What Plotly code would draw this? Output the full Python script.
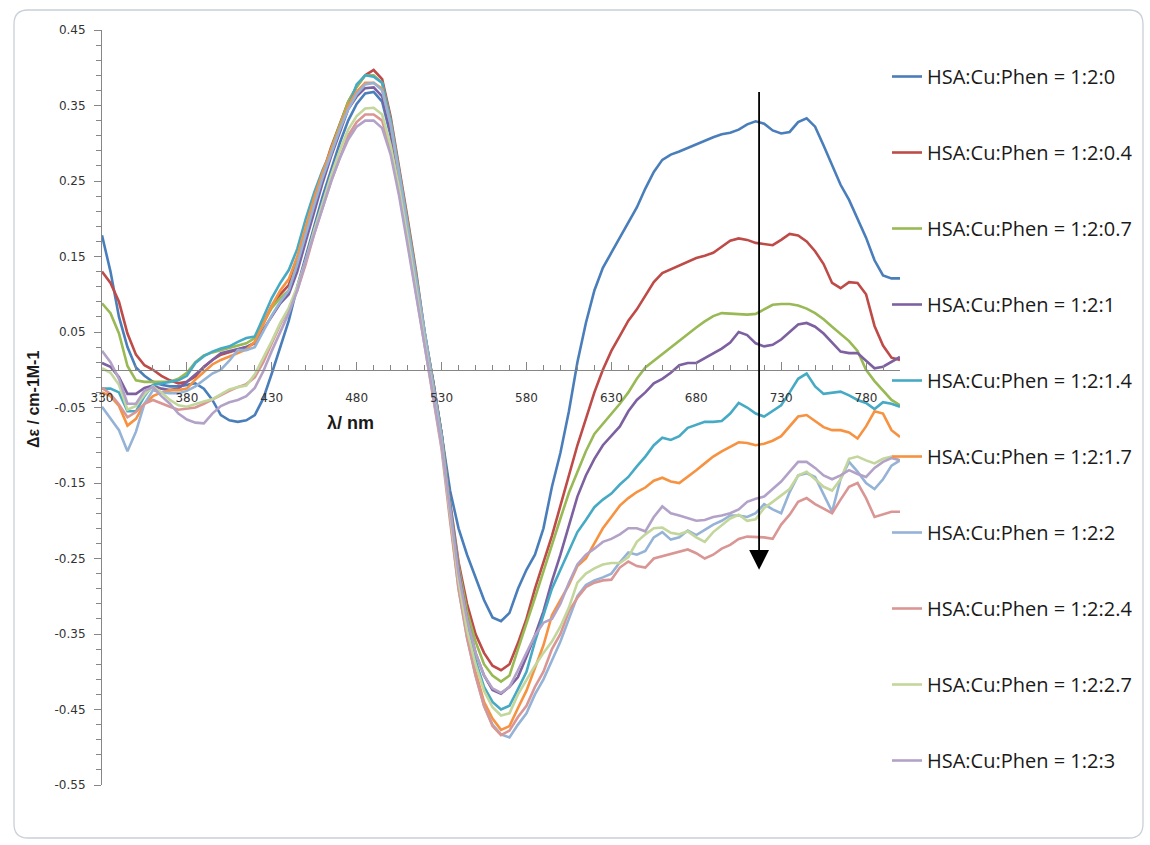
import plotly.graph_objects as go

# ---------------- data ----------------
wavelength = list(range(330, 801, 5))  # nm

ratio_labels = ["HSA:Cu:Phen = 1:2:0", "HSA:Cu:Phen = 1:2:0.4", "HSA:Cu:Phen = 1:2:0.7",
                "HSA:Cu:Phen = 1:2:1", "HSA:Cu:Phen = 1:2:1.4", "HSA:Cu:Phen = 1:2:1.7",
                "HSA:Cu:Phen = 1:2:2", "HSA:Cu:Phen = 1:2:2.4", "HSA:Cu:Phen = 1:2:2.7",
                "HSA:Cu:Phen = 1:2:3"]

phen_0 = [
    0.178, 0.13, 0.07, 0.03, 0.003, -0.008, -0.016, -0.02, -0.022, -0.022,
    -0.02, -0.018, -0.025, -0.04, -0.06, -0.067, -0.069, -0.067, -0.06, -0.038,
    -0.005, 0.03, 0.065, 0.11, 0.15, 0.19, 0.23, 0.265, 0.30, 0.33,
    0.352, 0.366, 0.368, 0.355, 0.31, 0.25, 0.18, 0.115, 0.04, -0.02,
    -0.085, -0.16, -0.21, -0.245, -0.275, -0.305, -0.328, -0.333, -0.322, -0.29,
    -0.265, -0.245, -0.21, -0.155, -0.11, -0.055, 0.01, 0.062, 0.105, 0.135,
    0.155, 0.175, 0.195, 0.215, 0.24, 0.262, 0.278, 0.285, 0.289, 0.294,
    0.298, 0.303, 0.308, 0.312, 0.314, 0.318, 0.325, 0.329, 0.326, 0.317,
    0.313, 0.315, 0.328, 0.333, 0.322, 0.297, 0.27, 0.245, 0.225, 0.20,
    0.175, 0.145, 0.125, 0.121, 0.121]

phen_04 = [
    0.130, 0.115, 0.09, 0.048, 0.02, 0.006, 0.0, -0.008, -0.014, -0.018,
    -0.016, -0.009, 0.004, 0.013, 0.02, 0.023, 0.026, 0.03, 0.035, 0.062,
    0.085, 0.1, 0.112, 0.145, 0.185, 0.225, 0.26, 0.295, 0.325, 0.355,
    0.375, 0.39, 0.397, 0.385, 0.335, 0.27, 0.2, 0.13, 0.05, -0.015,
    -0.085, -0.175, -0.255, -0.31, -0.35, -0.375, -0.392, -0.398, -0.39, -0.362,
    -0.33, -0.29, -0.255, -0.22, -0.18, -0.14, -0.1, -0.065, -0.03, 0.0,
    0.025, 0.045, 0.065, 0.08, 0.098, 0.116, 0.128, 0.133, 0.137, 0.143,
    0.148, 0.151, 0.155, 0.163, 0.171, 0.174, 0.172, 0.168, 0.166, 0.165,
    0.172, 0.18, 0.178, 0.17, 0.157, 0.14, 0.115, 0.108, 0.116, 0.115,
    0.1, 0.058, 0.032, 0.016, 0.013]

phen_07 = [
    0.088, 0.075, 0.048, 0.005, -0.014, -0.016, -0.016, -0.016, -0.016, -0.012,
    -0.004, 0.01, 0.019, 0.023, 0.026, 0.029, 0.032, 0.035, 0.042, 0.062,
    0.082, 0.095, 0.105, 0.14, 0.18, 0.22, 0.258, 0.293, 0.325, 0.355,
    0.375, 0.39, 0.39, 0.38, 0.33, 0.265, 0.195, 0.125, 0.048, -0.015,
    -0.085, -0.18, -0.26, -0.32, -0.36, -0.39, -0.405, -0.413, -0.405, -0.37,
    -0.337, -0.302, -0.267, -0.231, -0.197, -0.163, -0.135, -0.108, -0.085, -0.072,
    -0.058, -0.045, -0.03, -0.012, 0.003, 0.012, 0.02, 0.03, 0.039, 0.048,
    0.056, 0.064, 0.071, 0.075, 0.074, 0.073, 0.073, 0.074, 0.08, 0.086,
    0.087, 0.087, 0.085, 0.081, 0.075, 0.067, 0.057, 0.047, 0.038, 0.025,
    0.0, -0.015, -0.028, -0.04, -0.047]

phen_1 = [
    0.009, 0.004, -0.01, -0.032, -0.032, -0.024, -0.021, -0.025, -0.027, -0.025,
    -0.016, -0.006, 0.003, 0.013, 0.022, 0.025, 0.028, 0.03, 0.036, 0.053,
    0.07, 0.088, 0.1, 0.13, 0.17, 0.21, 0.248, 0.283, 0.315, 0.345,
    0.362, 0.373, 0.374, 0.362, 0.315, 0.255, 0.185, 0.12, 0.045, -0.015,
    -0.085, -0.18, -0.265, -0.33, -0.375, -0.405, -0.424, -0.429, -0.42, -0.407,
    -0.38, -0.352, -0.32, -0.28, -0.245, -0.205, -0.168, -0.14, -0.118, -0.1,
    -0.088, -0.075, -0.055, -0.04, -0.03, -0.018, -0.012, -0.004, 0.006, 0.009,
    0.009, 0.015, 0.022, 0.028, 0.036, 0.05, 0.046, 0.035, 0.031, 0.033,
    0.04, 0.05, 0.06, 0.062, 0.057, 0.048, 0.036, 0.024, 0.022, 0.022,
    0.012, 0.002, 0.004, 0.01, 0.017]

phen_14 = [
    -0.025, -0.025, -0.03, -0.055, -0.055, -0.035, -0.02, -0.018, -0.017, -0.014,
    -0.008, 0.009, 0.018, 0.024, 0.028, 0.031, 0.037, 0.042, 0.044, 0.07,
    0.095, 0.115, 0.132, 0.16, 0.2, 0.235, 0.265, 0.29, 0.32, 0.35,
    0.378, 0.39, 0.388, 0.38, 0.33, 0.262, 0.195, 0.125, 0.05, -0.015,
    -0.085, -0.18, -0.27, -0.335, -0.385, -0.42, -0.44, -0.45, -0.445, -0.423,
    -0.4, -0.36, -0.325, -0.29, -0.265, -0.24, -0.215, -0.199, -0.182, -0.172,
    -0.164, -0.152, -0.142, -0.128, -0.115, -0.1, -0.09, -0.093, -0.088, -0.077,
    -0.073, -0.069, -0.069, -0.068, -0.058, -0.044, -0.05, -0.058, -0.062, -0.055,
    -0.047, -0.03, -0.012, -0.005, -0.022, -0.032, -0.03, -0.029, -0.034, -0.04,
    -0.044, -0.052, -0.043, -0.045, -0.049]

phen_17 = [
    -0.03, -0.035, -0.048, -0.074, -0.065, -0.045, -0.035, -0.03, -0.027, -0.027,
    -0.025, -0.013, -0.003, 0.007, 0.013, 0.017, 0.022, 0.027, 0.037, 0.06,
    0.085, 0.105, 0.12, 0.15, 0.19, 0.228, 0.262, 0.292, 0.322, 0.35,
    0.368, 0.38, 0.38, 0.372, 0.325, 0.26, 0.19, 0.12, 0.045, -0.02,
    -0.09, -0.19, -0.285, -0.35, -0.4, -0.44, -0.462, -0.477, -0.472, -0.448,
    -0.425, -0.395, -0.365, -0.325, -0.305, -0.285, -0.26, -0.25, -0.23, -0.21,
    -0.195, -0.18, -0.17, -0.162, -0.156, -0.147, -0.143, -0.148, -0.15, -0.142,
    -0.133, -0.124, -0.115, -0.108, -0.102, -0.096, -0.097, -0.1, -0.098, -0.094,
    -0.088, -0.075, -0.062, -0.06, -0.068, -0.076, -0.08, -0.08, -0.083, -0.091,
    -0.075, -0.055, -0.058, -0.08, -0.089]

phen_2 = [
    -0.049, -0.064, -0.08, -0.108, -0.082, -0.045, -0.027, -0.03, -0.031, -0.031,
    -0.028, -0.022, -0.013, -0.005, 0.0, 0.012, 0.026, 0.026, 0.03, 0.052,
    0.072, 0.09, 0.105, 0.14, 0.18, 0.218, 0.255, 0.288, 0.318, 0.345,
    0.365, 0.378, 0.38, 0.37, 0.325, 0.26, 0.19, 0.12, 0.045, -0.02,
    -0.09, -0.195, -0.29, -0.355, -0.405, -0.445, -0.47, -0.483, -0.487, -0.47,
    -0.455, -0.43, -0.41, -0.385, -0.36, -0.33, -0.3, -0.285, -0.279, -0.275,
    -0.27, -0.255, -0.242, -0.245, -0.24, -0.222, -0.215, -0.225, -0.222, -0.213,
    -0.219, -0.212, -0.205, -0.2, -0.193, -0.193, -0.195, -0.19, -0.178, -0.185,
    -0.19, -0.162, -0.14, -0.137, -0.142, -0.165, -0.188, -0.145, -0.122, -0.135,
    -0.15, -0.158, -0.145, -0.127, -0.12]

phen_24 = [
    -0.024, -0.032, -0.046, -0.063, -0.056, -0.045, -0.04, -0.045, -0.049, -0.053,
    -0.052, -0.05, -0.045, -0.039, -0.034, -0.028, -0.023, -0.019, -0.01, 0.01,
    0.035, 0.06, 0.08, 0.105, 0.14, 0.18, 0.215, 0.25, 0.28, 0.31,
    0.328, 0.338, 0.338, 0.33, 0.29, 0.235, 0.17, 0.1, 0.03, -0.035,
    -0.105, -0.2, -0.29, -0.355, -0.405, -0.445, -0.472, -0.484, -0.478, -0.46,
    -0.445, -0.42, -0.4, -0.37, -0.35, -0.32, -0.302, -0.288, -0.282, -0.279,
    -0.278, -0.262, -0.254, -0.26, -0.262, -0.25, -0.247, -0.243, -0.24, -0.238,
    -0.243, -0.25, -0.245, -0.237, -0.232, -0.224, -0.221, -0.221, -0.222, -0.224,
    -0.205, -0.192, -0.175, -0.17, -0.178, -0.184, -0.19, -0.172, -0.155, -0.15,
    -0.17, -0.195, -0.192, -0.188, -0.188]

phen_27 = [
    0.002, -0.004, -0.02, -0.053, -0.048, -0.033, -0.022, -0.03, -0.04, -0.047,
    -0.049, -0.045, -0.042, -0.039, -0.032, -0.026, -0.023, -0.021, -0.006, 0.015,
    0.038, 0.062, 0.082, 0.11, 0.145, 0.185, 0.222, 0.258, 0.29, 0.318,
    0.336, 0.346, 0.347, 0.338, 0.297, 0.24, 0.175, 0.105, 0.035, -0.03,
    -0.1, -0.19, -0.28, -0.345, -0.39, -0.425, -0.447, -0.458, -0.455, -0.43,
    -0.41, -0.392, -0.375, -0.36, -0.34, -0.315, -0.282, -0.27, -0.263, -0.258,
    -0.256, -0.256, -0.248, -0.228, -0.218, -0.21, -0.209, -0.216, -0.218, -0.214,
    -0.222, -0.228, -0.215, -0.206, -0.197, -0.192, -0.2, -0.198, -0.183, -0.175,
    -0.167, -0.158, -0.14, -0.135, -0.145, -0.155, -0.16, -0.145, -0.118, -0.115,
    -0.12, -0.124, -0.118, -0.115, -0.12]

phen_3 = [
    0.025, 0.01, -0.012, -0.045, -0.045, -0.028, -0.023, -0.035, -0.045, -0.058,
    -0.066, -0.07, -0.071, -0.058, -0.048, -0.043, -0.04, -0.035, -0.024, -0.002,
    0.025, 0.05, 0.075, 0.105, 0.145, 0.18, 0.215, 0.25, 0.28, 0.305,
    0.322, 0.33, 0.33, 0.32, 0.285, 0.23, 0.165, 0.1, 0.03, -0.035,
    -0.1, -0.185, -0.27, -0.33, -0.375, -0.405, -0.422, -0.428, -0.42, -0.398,
    -0.375, -0.352, -0.335, -0.33, -0.31, -0.282, -0.258, -0.245, -0.237, -0.228,
    -0.224, -0.218, -0.21, -0.21, -0.214, -0.195, -0.181, -0.19, -0.193, -0.196,
    -0.2, -0.199, -0.195, -0.193, -0.19, -0.185, -0.175, -0.171, -0.168, -0.158,
    -0.148, -0.135, -0.122, -0.122, -0.13, -0.14, -0.145, -0.14, -0.133, -0.138,
    -0.142, -0.13, -0.122, -0.117, -0.12]

series_values = [phen_0, phen_04, phen_07, phen_1, phen_14, phen_17,
                 phen_2, phen_24, phen_27, phen_3]

series_colors = ["#4A7EBB", "#BE4B48", "#98B954", "#7D60A0", "#46AAC5", "#F69240",
                 "#95B3D7", "#D99694", "#C3D69B", "#B3A2C7"]

x_ticks = [330, 380, 430, 480, 530, 580, 630, 680, 730, 780]
y_ticks = [0.45, 0.35, 0.25, 0.15, 0.05, -0.05, -0.15, -0.25, -0.35, -0.45, -0.55]

# arrow showing the trend (data coordinates)
arrow_x = 717
arrow_top = 0.37
arrow_bottom = -0.265

# ---------------- layout constants (pixels) ----------------
W, H = 1150, 845
ML, MR, MT, MB = 102, 250, 30, 60
PW, PH = W - ML - MR, H - MT - MB


def px_x(px):
    return (px - ML) / PW


def px_y(py):
    return (H - MB - py) / PH


fig = go.Figure()
for name, vals, col in zip(ratio_labels, series_values, series_colors):
    fig.add_trace(go.Scatter(
        x=wavelength, y=vals, mode="lines", name=name,
        line=dict(color=col, width=2.6), legendgroup=name))

axis_col = "#868686"
tick_font = dict(family="DejaVu Sans", size=12, color="#333333")

fig.update_layout(
    width=W, height=H,
    margin=dict(l=ML, r=MR, t=MT, b=MB),
    paper_bgcolor="white", plot_bgcolor="white",
    showlegend=True,
    legend=dict(
        x=px_x(887), y=px_y(57), xanchor="left", yanchor="top",
        font=dict(family="Open Sans", size=20, color="#1a1a1a"),
        tracegroupgap=47, bgcolor="rgba(0,0,0,0)", itemwidth=30,
    ),
    xaxis=dict(
        range=[330, 800], showgrid=False, zeroline=False,
        showline=True, linecolor=axis_col, linewidth=1,
        anchor="free", position=0.55,
        tickmode="array", tickvals=x_ticks, ticktext=[str(v) for v in x_ticks],
        ticks="inside", ticklen=8, tickcolor=axis_col, tickwidth=1,
        ticklabelstandoff=17,
        minor=dict(dtick=10, tick0=330, ticks="inside", ticklen=5, tickcolor=axis_col),
        tickfont=tick_font,
    ),
    yaxis=dict(
        range=[-0.55, 0.45], showgrid=False, zeroline=False,
        showline=True, linecolor=axis_col, linewidth=1,
        tickmode="array", tickvals=y_ticks, ticktext=[f"{v:.2f}" for v in y_ticks],
        ticks="outside", ticklen=7, tickcolor=axis_col, tickwidth=1,
        ticklabelstandoff=6,
        minor=dict(dtick=0.02, tick0=-0.55, ticks="outside", ticklen=5, tickcolor=axis_col),
        tickfont=tick_font,
    ),
)

# axis titles as annotations
fig.add_annotation(
    x=px_x(34), y=px_y(400), xref="paper", yref="paper",
    xanchor="center", yanchor="middle",
    text="<b>Δε / cm-1M-1</b>", textangle=-90, showarrow=False,
    font=dict(family="Liberation Sans", size=16, color="#1a1a1a"))
fig.add_annotation(
    x=px_x(350), y=px_y(423), xref="paper", yref="paper",
    xanchor="center", yanchor="middle",
    text="<b>λ/ nm</b>", showarrow=False,
    font=dict(family="Liberation Sans", size=18, color="#1a1a1a"))

# trend arrow
fig.add_annotation(
    x=arrow_x, y=arrow_bottom, ax=arrow_x, ay=arrow_top,
    xref="x", yref="y", axref="x", ayref="y",
    text="", showarrow=True, arrowhead=2, arrowsize=2.2, arrowwidth=1.8,
    arrowcolor="black")

# rounded outer frame
x0, x1 = px_x(14), px_x(1143)
y0, y1 = px_y(838), px_y(10)
rx, ry = 14 / PW, 14 / PH
path = (f"M {x0+rx},{y0} L {x1-rx},{y0} Q {x1},{y0} {x1},{y0+ry} "
        f"L {x1},{y1-ry} Q {x1},{y1} {x1-rx},{y1} L {x0+rx},{y1} "
        f"Q {x0},{y1} {x0},{y1-ry} L {x0},{y0+ry} Q {x0},{y0} {x0+rx},{y0} Z")
fig.add_shape(type="path", path=path, xref="paper", yref="paper",
              line=dict(color="#C9D0D8", width=1.3), layer="below")

fig.write_html("out.html")
